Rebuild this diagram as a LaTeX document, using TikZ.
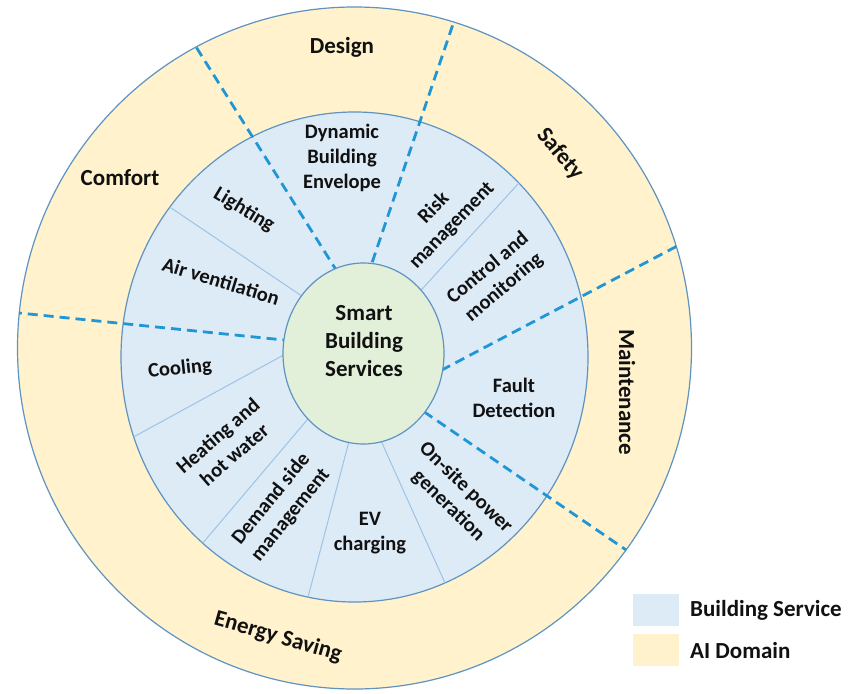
\documentclass[tikz,border=0pt]{standalone}
\usepackage{fontspec}
\setmainfont{Carlito}
\usetikzlibrary{shapes.geometric}
\definecolor{aiFill}{HTML}{FFF2CC}
\definecolor{bsFill}{HTML}{DDEBF7}
\definecolor{hubFill}{HTML}{E2F0D9}
\definecolor{ringline}{HTML}{5E93C2}
\definecolor{dashblue}{HTML}{2196D6}
\definecolor{servline}{HTML}{9DC3E6}
\definecolor{txt}{HTML}{111111}
\begin{document}
\begin{tikzpicture}[x=1pt,y=1pt,
  ailab/.style={font=\fontsize{23}{28}\selectfont\bfseries,align=center,inner sep=0pt,text=txt},
  svc/.style={font=\fontsize{20.5}{25}\selectfont\bfseries,align=center,inner sep=0pt,text=txt},
  ring/.style={draw=ringline,line width=1.2pt},
  domainsep/.style={draw=dashblue,line width=2.8pt,dash pattern=on 10pt off 6pt},
  servsep/.style={draw=servline,line width=1pt},
  legbox/.style={minimum width=46pt,minimum height=32pt,inner sep=0pt}]
\useasboundingbox (0,0) rectangle (848,-693);
\fill[white] (0,0) rectangle (848,-693);
% rings
\path[ring,fill=aiFill] (354.5,-348) ellipse [x radius=337pt,y radius=341pt];
\path[ring,fill=bsFill] (354.5,-357) ellipse [x radius=233.5pt,y radius=245pt];
% service separators
\begin{scope}
\clip (354.5,-357) ellipse [x radius=233.5pt,y radius=245pt];
\coordinate (a1) at (327,-313); \coordinate (a2) at (140,-187);
\coordinate (b1) at (403,-310); \coordinate (b2) at (539,-161);
\coordinate (c1) at (322,-334); \coordinate (c2) at (117,-446);
\coordinate (d1) at (335,-387); \coordinate (d2) at (185,-564);
\coordinate (e1) at (358,-407); \coordinate (e2) at (302,-620);
\coordinate (f1) at (373,-423); \coordinate (f2) at (454,-603);
\draw[servsep] (a1) -- (a2);
\draw[servsep] (b1) -- (b2);
\draw[servsep] (c1) -- (c2);
\draw[servsep] (d1) -- (d2);
\draw[servsep] (e1) -- (e2);
\draw[servsep] (f1) -- (f2);
\end{scope}
% domain separators
\begin{scope}
\clip (354.5,-348) ellipse [x radius=337pt,y radius=341pt];
\coordinate (p1) at (360,-308); \coordinate (q1) at (171,-7);
\coordinate (p2) at (356,-310); \coordinate (q2) at (468,20);
\coordinate (p3) at (402,-391); \coordinate (q3) at (719,-224);
\coordinate (p4) at (382,-383); \coordinate (q4) at (670,-580);
\coordinate (p5) at (323,-344); \coordinate (q5) at (-20,-309);
\draw[domainsep] (q1) -- (p1);
\draw[domainsep] (q2) -- (p2);
\draw[domainsep] (q3) -- (p3);
\draw[domainsep] (q4) -- (p4);
\draw[domainsep] (q5) -- (p5);
\end{scope}
% hub
\node[ellipse,ring,fill=hubFill,minimum width=161pt,minimum height=181pt,inner sep=0pt] (hub) at (363.5,-353.5) {};
\node[ailab] (hubtext) at (364,-341) {Smart\\Building\\Services};
% AI domains
\node[ailab] (design) at (342,-47) {Design};
\node[ailab] (comfort) at (120,-178) {Comfort};
\node[ailab,rotate=-50] (safety) at (560,-154) {Safety};
\node[ailab,rotate=-90] (maint) at (627,-392) {Maintenance};
\node[ailab,rotate=-16] (energy) at (278,-637) {Energy Saving};
% services
\node[svc] (dbe) at (342,-158) {Dynamic\\Building\\Envelope};
\node[svc,rotate=-31] (light) at (244,-210) {Lighting};
\node[svc,rotate=-17] (air) at (221,-281) {Air ventilation};
\node[svc,rotate=46] (risk) at (443,-217) {Risk\\management};
\node[svc,rotate=40] (ctrl) at (496,-278) {Control and\\monitoring};
\node[svc] (fault) at (514,-398) {Fault\\Detection};
\node[svc,rotate=-44] (onsite) at (457,-497) {On-site power\\generation};
\node[svc] (ev) at (370,-533) {EV\\charging};
\node[svc,rotate=51] (dsm) at (281,-507) {Demand side\\management};
\node[svc,rotate=41] (heat) at (226,-445) {Heating and\\hot water};
\node[svc,rotate=6] (cool) at (180,-369) {Cooling};
% legend
\node[legbox,fill=bsFill] (legbs) at (656,-610) {};
\node[legbox,fill=aiFill] (legai) at (656,-649.5) {};
\node[ailab,anchor=west] (legbstext) at (690,-610) {Building Service};
\node[ailab,anchor=west] (legaitext) at (690,-651) {AI Domain};
\end{tikzpicture}
\end{document}
